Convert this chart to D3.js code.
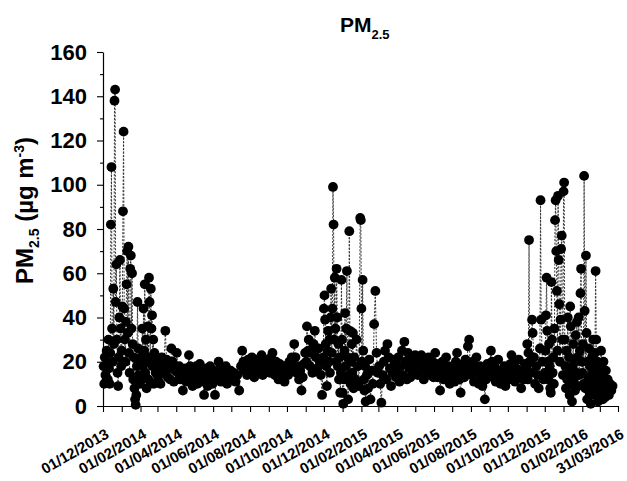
<!DOCTYPE html>
<html>
<head>
<meta charset="utf-8">
<script src="https://cdn.jsdelivr.net/npm/d3@7"></script>
<style>
html, body { margin: 0; padding: 0; background: #fff; overflow: hidden; }
svg { display: block; font-family: "Liberation Sans", Arial, sans-serif; font-weight: bold; }
</style>
</head>
<body>
<svg id="chart"></svg>
<script>
const yTicks = [0, 20, 40, 60, 80, 100, 120, 140, 160];
const yMinorTicks = [10, 30, 50, 70, 90, 110, 130, 150];
const xTickLabels = ["01/12/2013", "01/02/2014", "01/04/2014", "01/06/2014", "01/08/2014",
	"01/10/2014", "01/12/2014", "01/02/2015", "01/04/2015", "01/06/2015", "01/08/2015",
	"01/10/2015", "01/12/2015", "01/02/2016", "31/03/2016"];
const xDomain = ["2013-12-01", "2016-03-31"];

// daily PM2.5 (µg m-3)
const pm25Daily = [
	["2013-12-02",18],["2013-12-03",10],["2013-12-04",22],["2013-12-05",14],["2013-12-06",11],["2013-12-07",25],["2013-12-08",19],["2013-12-09",12],["2013-12-10",30],["2013-12-11",17],["2013-12-12",10],["2013-12-13",24],["2013-12-14",82],["2013-12-15",108],["2013-12-16",35],["2013-12-17",20],["2013-12-18",53],["2013-12-19",28],["2013-12-20",138],["2013-12-21",143],["2013-12-22",47],["2013-12-23",64],["2013-12-24",30],["2013-12-25",15],["2013-12-26",9],["2013-12-27",22],["2013-12-28",40],["2013-12-29",66],["2013-12-30",35],["2013-12-31",18],
	["2014-01-01",25],["2014-01-02",45],["2014-01-03",88],["2014-01-04",124],["2014-01-05",44],["2014-01-06",30],["2014-01-07",20],["2014-01-08",38],["2014-01-09",55],["2014-01-10",70],["2014-01-11",33],["2014-01-12",72],["2014-01-13",24],["2014-01-14",15],["2014-01-15",62],["2014-01-16",68],["2014-01-17",35],["2014-01-18",60],["2014-01-19",28],["2014-01-20",12],["2014-01-21",22],["2014-01-22",8],["2014-01-23",3],["2014-01-24",0.5],["2014-01-25",5],["2014-01-26",18],["2014-01-27",47],["2014-01-28",26],["2014-01-29",14],["2014-01-30",20],["2014-01-31",10],
	["2014-02-02",22],["2014-02-03",12],["2014-02-04",35],["2014-02-05",18],["2014-02-06",44],["2014-02-07",25],["2014-02-08",55],["2014-02-09",15],["2014-02-10",30],["2014-02-11",8],["2014-02-12",20],["2014-02-13",36],["2014-02-14",12],["2014-02-15",58],["2014-02-16",47],["2014-02-17",22],["2014-02-18",53],["2014-02-19",35],["2014-02-20",41],["2014-02-21",18],["2014-02-22",30],["2014-02-23",10],["2014-02-24",24],["2014-02-26",15],["2014-02-28",20],
	["2014-03-02",12],["2014-03-04",18],["2014-03-06",10],["2014-03-08",22],["2014-03-10",15],["2014-03-12",19],["2014-03-14",34],["2014-03-16",21],["2014-03-18",13],["2014-03-20",17],["2014-03-22",12],["2014-03-24",26],["2014-03-26",20],["2014-03-28",11],["2014-03-30",16],
	["2014-04-02",24],["2014-04-04",15],["2014-04-06",18],["2014-04-08",12],["2014-04-10",16],["2014-04-12",7],["2014-04-14",14],["2014-04-16",17],["2014-04-18",11],["2014-04-20",15],["2014-04-22",23],["2014-04-24",18],["2014-04-26",13],["2014-04-28",9],["2014-04-30",16],
	["2014-05-02",12],["2014-05-04",18],["2014-05-06",10],["2014-05-08",14],["2014-05-10",19],["2014-05-12",11],["2014-05-14",16],["2014-05-17",5],["2014-05-19",12],["2014-05-21",17],["2014-05-23",9],["2014-05-25",15],["2014-05-27",18],["2014-05-29",13],["2014-05-31",10],
	["2014-06-02",14],["2014-06-04",5],["2014-06-06",12],["2014-06-08",16],["2014-06-10",20],["2014-06-12",15],["2014-06-14",11],["2014-06-16",17],["2014-06-18",14],["2014-06-20",12],["2014-06-22",18],["2014-06-24",10],["2014-06-26",15],["2014-06-28",13],["2014-06-30",16],
	["2014-07-02",12],["2014-07-05",15],["2014-07-08",11],["2014-07-11",14],["2014-07-14",7],["2014-07-17",18],["2014-07-19",25],["2014-07-21",20],["2014-07-23",16],["2014-07-25",19],["2014-07-27",14],["2014-07-29",21],["2014-07-31",17],
	["2014-08-02",19],["2014-08-04",22],["2014-08-06",16],["2014-08-08",13],["2014-08-10",18],["2014-08-12",21],["2014-08-14",15],["2014-08-16",20],["2014-08-18",17],["2014-08-20",23],["2014-08-22",14],["2014-08-24",19],["2014-08-26",21],["2014-08-28",16],["2014-08-30",18],
	["2014-09-01",20],["2014-09-03",15],["2014-09-05",22],["2014-09-07",24],["2014-09-09",18],["2014-09-11",14],["2014-09-13",20],["2014-09-15",17],["2014-09-17",12],["2014-09-19",19],["2014-09-21",16],["2014-09-23",13],["2014-09-25",18],["2014-09-27",11],["2014-09-29",15],
	["2014-10-01",18],["2014-10-03",14],["2014-10-05",20],["2014-10-07",16],["2014-10-09",22],["2014-10-11",19],["2014-10-13",28],["2014-10-15",22],["2014-10-17",15],["2014-10-19",18],["2014-10-21",12],["2014-10-23",16],["2014-10-25",7],["2014-10-27",13],["2014-10-29",19],["2014-10-31",24],
	["2014-11-02",20],["2014-11-03",36],["2014-11-05",25],["2014-11-06",30],["2014-11-08",18],["2014-11-10",24],["2014-11-12",15],["2014-11-14",28],["2014-11-16",34],["2014-11-18",22],["2014-11-20",17],["2014-11-22",26],["2014-11-24",20],["2014-11-26",14],["2014-11-28",5],["2014-11-30",22],
	["2014-12-01",44],["2014-12-02",50],["2014-12-03",39],["2014-12-04",28],["2014-12-05",18],["2014-12-06",9],["2014-12-07",25],["2014-12-08",34],["2014-12-09",20],["2014-12-10",30],["2014-12-11",15],["2014-12-12",40],["2014-12-13",53],["2014-12-14",24],["2014-12-15",44],["2014-12-16",99],["2014-12-17",82],["2014-12-18",30],["2014-12-19",58],["2014-12-20",35],["2014-12-21",20],["2014-12-22",62],["2014-12-23",40],["2014-12-24",18],["2014-12-25",28],["2014-12-26",12],["2014-12-27",22],["2014-12-28",6],["2014-12-29",15],["2014-12-30",57],["2014-12-31",30],
	["2015-01-01",6],["2015-01-02",1],["2015-01-03",12],["2015-01-04",25],["2015-01-05",42],["2015-01-06",18],["2015-01-07",35],["2015-01-08",61],["2015-01-09",22],["2015-01-10",3],["2015-01-11",14],["2015-01-12",79],["2015-01-13",34],["2015-01-14",10],["2015-01-15",20],["2015-01-16",28],["2015-01-17",15],["2015-01-18",33],["2015-01-19",8],["2015-01-20",22],["2015-01-22",12],["2015-01-24",30],["2015-01-26",18],["2015-01-28",9],["2015-01-30",85],["2015-01-31",84],
	["2015-02-01",44],["2015-02-02",20],["2015-02-03",57],["2015-02-04",25],["2015-02-05",12],["2015-02-06",7],["2015-02-07",18],["2015-02-08",2],["2015-02-10",14],["2015-02-12",8],["2015-02-14",21],["2015-02-16",3],["2015-02-18",16],["2015-02-20",10],["2015-02-22",37],["2015-02-24",52],["2015-02-26",24],["2015-02-28",15],
	["2015-03-02",18],["2015-03-04",10],["2015-03-06",1.5],["2015-03-08",14],["2015-03-10",20],["2015-03-12",25],["2015-03-14",12],["2015-03-16",28],["2015-03-18",22],["2015-03-20",17],["2015-03-22",9],["2015-03-24",15],["2015-03-26",21],["2015-03-28",19],["2015-03-30",13],
	["2015-04-01",16],["2015-04-03",22],["2015-04-05",11],["2015-04-07",18],["2015-04-09",25],["2015-04-11",14],["2015-04-13",29],["2015-04-15",20],["2015-04-17",12],["2015-04-19",24],["2015-04-21",17],["2015-04-23",13],["2015-04-25",19],["2015-04-27",22],["2015-04-29",15],
	["2015-05-01",23],["2015-05-03",18],["2015-05-05",14],["2015-05-07",20],["2015-05-09",16],["2015-05-11",23],["2015-05-13",19],["2015-05-15",12],["2015-05-17",21],["2015-05-19",17],["2015-05-21",14],["2015-05-23",22],["2015-05-25",18],["2015-05-27",15],["2015-05-29",20],["2015-05-31",13],
	["2015-06-01",16],["2015-06-03",24],["2015-06-05",19],["2015-06-07",13],["2015-06-09",17],["2015-06-11",7],["2015-06-13",15],["2015-06-15",20],["2015-06-17",12],["2015-06-19",16],["2015-06-21",22],["2015-06-23",14],["2015-06-25",18],["2015-06-27",10],["2015-06-29",17],
	["2015-07-01",14],["2015-07-03",18],["2015-07-05",11],["2015-07-07",20],["2015-07-09",24],["2015-07-11",16],["2015-07-13",12],["2015-07-15",6],["2015-07-17",15],["2015-07-19",19],["2015-07-21",13],["2015-07-23",21],["2015-07-25",17],["2015-07-27",27],["2015-07-29",30],["2015-07-31",18],
	["2015-08-02",14],["2015-08-04",20],["2015-08-06",11],["2015-08-08",16],["2015-08-10",22],["2015-08-12",15],["2015-08-14",10],["2015-08-16",18],["2015-08-18",13],["2015-08-20",9],["2015-08-22",16],["2015-08-24",3],["2015-08-26",12],["2015-08-28",19],["2015-08-30",14],
	["2015-09-01",17],["2015-09-03",25],["2015-09-05",20],["2015-09-07",13],["2015-09-09",18],["2015-09-11",11],["2015-09-13",15],["2015-09-15",21],["2015-09-17",14],["2015-09-19",10],["2015-09-21",16],["2015-09-23",12],["2015-09-25",18],["2015-09-27",9],["2015-09-29",14],
	["2015-10-01",16],["2015-10-03",12],["2015-10-05",19],["2015-10-07",23],["2015-10-09",15],["2015-10-11",20],["2015-10-13",11],["2015-10-15",17],["2015-10-17",14],["2015-10-19",21],["2015-10-21",13],["2015-10-23",8],["2015-10-25",16],["2015-10-27",12],["2015-10-29",19],["2015-10-31",15],
	["2015-11-01",18],["2015-11-02",28],["2015-11-03",12],["2015-11-04",24],["2015-11-05",75],["2015-11-06",20],["2015-11-08",15],["2015-11-10",39],["2015-11-11",33],["2015-11-13",22],["2015-11-15",10],["2015-11-17",18],["2015-11-19",14],["2015-11-21",8],["2015-11-23",26],["2015-11-24",93],["2015-11-25",39],["2015-11-27",20],["2015-11-29",12],
	["2015-12-01",15],["2015-12-02",25],["2015-12-03",41],["2015-12-04",58],["2015-12-05",34],["2015-12-06",20],["2015-12-07",12],["2015-12-08",28],["2015-12-09",18],["2015-12-10",8],["2015-12-11",6],["2015-12-12",56],["2015-12-13",30],["2015-12-14",15],["2015-12-15",22],["2015-12-16",10],["2015-12-17",35],["2015-12-18",84],["2015-12-19",93],["2015-12-20",70],["2015-12-21",52],["2015-12-22",25],["2015-12-23",95],["2015-12-24",66],["2015-12-25",46],["2015-12-26",20],["2015-12-27",39],["2015-12-28",71],["2015-12-29",77],["2015-12-30",30],["2015-12-31",14],
	["2016-01-01",97],["2016-01-02",101],["2016-01-03",30],["2016-01-04",18],["2016-01-05",8],["2016-01-06",25],["2016-01-07",12],["2016-01-08",40],["2016-01-09",15],["2016-01-10",22],["2016-01-11",5],["2016-01-12",45],["2016-01-13",36],["2016-01-14",10],["2016-01-15",2],["2016-01-16",18],["2016-01-17",28],["2016-01-18",12],["2016-01-19",20],["2016-01-20",7],["2016-01-21",32],["2016-01-22",15],["2016-01-23",38],["2016-01-24",22],["2016-01-25",9],["2016-01-26",40],["2016-01-27",14],["2016-01-28",25],["2016-01-29",51],["2016-01-30",62],["2016-01-31",20],
	["2016-02-01",15],["2016-02-02",28],["2016-02-03",10],["2016-02-04",104],["2016-02-05",43],["2016-02-06",8],["2016-02-07",68],["2016-02-08",33],["2016-02-09",3],["2016-02-10",20],["2016-02-11",12],["2016-02-12",26],["2016-02-13",6],["2016-02-14",18],["2016-02-15",1],["2016-02-16",14],["2016-02-17",22],["2016-02-18",9],["2016-02-19",30],["2016-02-20",16],["2016-02-21",5],["2016-02-22",24],["2016-02-23",61],["2016-02-24",30],["2016-02-25",12],["2016-02-26",20],["2016-02-27",2],["2016-02-28",15],["2016-02-29",8],
	["2016-03-01",18],["2016-03-02",10],["2016-03-03",25],["2016-03-04",6],["2016-03-05",14],["2016-03-06",3],["2016-03-07",20],["2016-03-08",9],["2016-03-09",12],["2016-03-10",4],["2016-03-11",16],["2016-03-12",8],["2016-03-14",12],["2016-03-16",5],["2016-03-18",10],["2016-03-20",7],["2016-03-22",9]
];

const width = 627, height = 481;
const margin = {top: 52, right: 10, bottom: 75, left: 103};
const innerWidth = width - margin.left - margin.right;
const innerHeight = height - margin.top - margin.bottom;

const parseIso = d3.timeParse("%Y-%m-%d");
const parseLabel = d3.timeParse("%d/%m/%Y");
const data = pm25Daily.map(d => ({date: parseIso(d[0]), value: d[1]}));

const svg = d3.select("#chart")
	.attr("width", width)
	.attr("height", height);

const g = svg.append("g")
	.attr("transform", `translate(${margin.left},${margin.top})`);

const x = d3.scaleTime()
	.domain(xDomain.map(parseIso))
	.range([0, innerWidth + 1]);

const y = d3.scaleLinear()
	.domain([0, 160])
	.range([innerHeight, 0]);

// dashed line joining consecutive days
const line = d3.line()
	.x(d => x(d.date))
	.y(d => y(d.value));

g.append("path")
	.datum(data)
	.attr("fill", "none")
	.attr("stroke", "#333")
	.attr("stroke-width", 1)
	.attr("stroke-dasharray", "2,1.5")
	.attr("d", line);

g.selectAll("circle")
	.data(data)
	.enter().append("circle")
	.attr("cx", d => x(d.date))
	.attr("cy", d => y(d.value))
	.attr("r", 4.9)
	.attr("fill", "#000");

// y axis
const yAxis = g.append("g")
	.call(d3.axisLeft(y).tickValues(yTicks).tickSize(6).tickSizeOuter(0).tickPadding(10));
yAxis.selectAll("text")
	.attr("font-size", 22)
	.attr("font-family", null)
	.attr("fill", "#000");
g.append("g")
	.call(d3.axisLeft(y).tickValues(yMinorTicks).tickSize(3).tickFormat(""))
	.call(a => a.select(".domain").remove());

// x axis, monthly ticks, every other month labelled
const monthTicks = d3.timeMonth.range(x.domain()[0], x.domain()[1]).concat([x.domain()[1]]);
g.append("g")
	.attr("transform", `translate(0,${innerHeight})`)
	.call(d3.axisBottom(x).tickValues(monthTicks).tickSize(6).tickSizeOuter(0).tickFormat(""));

g.selectAll(".domain").attr("stroke-width", 1.2);
g.selectAll(".tick line").attr("stroke-width", 1.1);

g.append("g")
	.selectAll("text")
	.data(xTickLabels)
	.enter().append("text")
	.attr("transform", d => `translate(${x(parseLabel(d)) + 7},${innerHeight + 31}) rotate(-30)`)
	.attr("text-anchor", "end")
	.attr("font-size", 15)
	.text(d => d);

// titles
const title = svg.append("text")
	.attr("x", 340)
	.attr("y", 32)
	.attr("font-size", 21);
title.append("tspan").text("PM");
title.append("tspan").attr("font-size", 13).attr("dy", 7).text("2.5");

const yTitle = svg.append("text")
	.attr("transform", "translate(33,284) rotate(-90)")
	.attr("font-size", 24);
yTitle.append("tspan").text("PM");
yTitle.append("tspan").attr("font-size", 14).attr("dy", 6).text("2.5");
yTitle.append("tspan").attr("dy", -6).text(" (µg m");
yTitle.append("tspan").attr("font-size", 14).attr("dy", -9).text("-3");
yTitle.append("tspan").attr("dy", 9).text(")");
</script>
</body>
</html>
